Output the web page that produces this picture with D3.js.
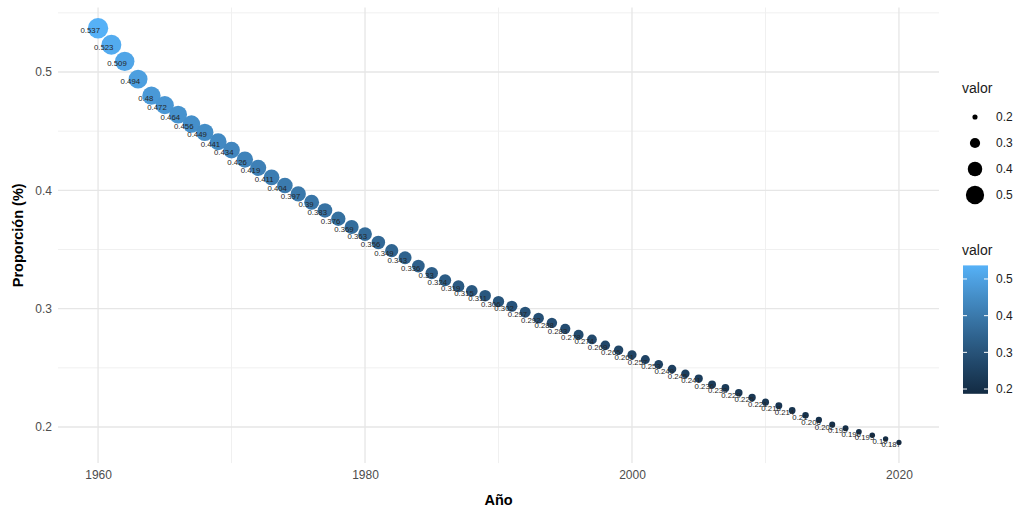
<!DOCTYPE html>
<html>
<head>
<meta charset="utf-8">
<script src="https://cdn.jsdelivr.net/npm/d3@7"></script>
<style>
  html, body { margin: 0; padding: 0; background: #fff; }
  svg { display: block; font-family: "Liberation Sans", Arial, sans-serif; }
</style>
</head>
<body>
<svg id="chart" width="1021" height="513"></svg>
<script>
// ---- data ----
const years = d3.range(1960, 2021);
const valores = [
  0.537, 0.523, 0.509, 0.494, 0.48, 0.472, 0.464, 0.456, 0.449, 0.441,
  0.434, 0.426, 0.419, 0.411, 0.404, 0.397, 0.39, 0.383, 0.376, 0.369,
  0.363, 0.356, 0.349, 0.343, 0.336, 0.33, 0.324, 0.319, 0.315, 0.311,
  0.306, 0.302, 0.297, 0.292, 0.288, 0.283, 0.278, 0.274, 0.269, 0.265,
  0.261, 0.257, 0.253, 0.249, 0.245, 0.241, 0.236, 0.233, 0.229, 0.225,
  0.221, 0.218, 0.214, 0.21, 0.206, 0.202, 0.199, 0.196, 0.193, 0.19,
  0.187
];
const xTicks = [1960, 1980, 2000, 2020];
const xMinor = [1970, 1990, 2010];
const yTicks = [0.2, 0.3, 0.4, 0.5];
const yMinor = [0.25, 0.35, 0.45, 0.55];
const legendBreaks = [0.2, 0.3, 0.4, 0.5];
const xTitle = "Año";
const yTitle = "Proporción (%)";
const legendTitle = "valor";

const data = years.map((y, i) => ({ year: y, valor: valores[i] }));

// ---- layout ----
const svg = d3.select("#chart");
const panel = { left: 58, right: 939, top: 7.5, bottom: 463.1 };

const xExt = d3.extent(years), xPad = (xExt[1] - xExt[0]) * 0.05;
const yExt = d3.extent(valores), yPad = (yExt[1] - yExt[0]) * 0.05;

const x = d3.scaleLinear().domain([xExt[0] - xPad, xExt[1] + xPad]).range([panel.left, panel.right]);
const y = d3.scaleLinear().domain([yExt[0] - yPad, yExt[1] + yPad]).range([panel.bottom, panel.top]);

const color = d3.scaleLinear().domain(yExt).range(["#132B43", "#56B1F7"]).interpolate(d3.interpolateLab);
const size = d3.scaleSqrt().domain(yExt).range([0, 1]).clamp(true);
const radius = v => 2.6 + size(v) * 7.6;

// ---- grid ----
const grid = svg.append("g");
grid.selectAll(".ymin").data(yMinor).join("line")
  .attr("x1", panel.left).attr("x2", panel.right)
  .attr("y1", d => y(d)).attr("y2", d => y(d))
  .attr("stroke", "#f0f0f0").attr("stroke-width", 1);
grid.selectAll(".xmin").data(xMinor).join("line")
  .attr("y1", panel.top).attr("y2", panel.bottom)
  .attr("x1", d => x(d)).attr("x2", d => x(d))
  .attr("stroke", "#f0f0f0").attr("stroke-width", 1);
grid.selectAll(".ymaj").data(yTicks).join("line")
  .attr("x1", panel.left).attr("x2", panel.right)
  .attr("y1", d => y(d)).attr("y2", d => y(d))
  .attr("stroke", "#e6e6e6").attr("stroke-width", 1.3);
grid.selectAll(".xmaj").data(xTicks).join("line")
  .attr("y1", panel.top).attr("y2", panel.bottom)
  .attr("x1", d => x(d)).attr("x2", d => x(d))
  .attr("stroke", "#e6e6e6").attr("stroke-width", 1.3);

// ---- axes ----
const xAxis = svg.append("g").attr("transform", `translate(0,${panel.bottom})`)
  .call(d3.axisBottom(x).tickValues(xTicks).tickFormat(d3.format("d")).tickSize(0).tickPadding(7));
const yAxis = svg.append("g").attr("transform", `translate(${panel.left},0)`)
  .call(d3.axisLeft(y).tickValues(yTicks).tickFormat(d3.format(".1f")).tickSize(0).tickPadding(6));
[xAxis, yAxis].forEach(a => {
  a.select(".domain").remove();
  a.selectAll("text").attr("fill", "#4d4d4d").style("font-size", "12px")
    .style("font-family", "'Liberation Sans', Arial, sans-serif");
});

svg.append("text").attr("x", (panel.left + panel.right) / 2).attr("y", 505)
  .attr("text-anchor", "middle").attr("font-weight", "bold").attr("font-size", 14.5)
  .attr("fill", "#000").text(xTitle);
svg.append("text").attr("transform", `translate(23,${(panel.top + panel.bottom) / 2}) rotate(-90)`)
  .attr("text-anchor", "middle").attr("font-weight", "bold").attr("font-size", 14.5)
  .attr("fill", "#000").text(yTitle);

// ---- points ----
svg.append("g").selectAll("circle").data(data).join("circle")
  .attr("cx", d => x(d.year)).attr("cy", d => y(d.valor))
  .attr("r", d => radius(d.valor))
  .attr("fill", d => color(d.valor));

// ---- labels ----
svg.append("g").selectAll("text").data(data).join("text")
  .attr("x", d => x(d.year) + 2).attr("y", d => y(d.valor) + 5)
  .attr("text-anchor", "end")
  .attr("font-size", 7.8).attr("fill", "#262626")
  .text(d => String(d.valor));

// ---- size legend ----
const lg = svg.append("g");
lg.append("text").attr("x", 962).attr("y", 93).attr("font-size", 14).attr("fill", "#1a1a1a").text(legendTitle);
const keyY = d3.scalePoint().domain(legendBreaks).range([117, 195]);
lg.selectAll("circle").data(legendBreaks).join("circle")
  .attr("cx", 975).attr("cy", d => keyY(d)).attr("r", d => radius(d) - 0.4).attr("fill", "#000");
lg.selectAll(".lbl").data(legendBreaks).join("text")
  .attr("x", 996).attr("y", d => keyY(d) + 4.3).attr("font-size", 12).attr("fill", "#1a1a1a")
  .text(d3.format(".1f"));

// ---- colour bar ----
const cb = { x: 963, w: 25, top: 265.4, bottom: 393.8 };
const cbY = d3.scaleLinear().domain(yExt).range([cb.bottom, cb.top]);
const defs = svg.append("defs");
const grad = defs.append("linearGradient").attr("id", "cbgrad")
  .attr("x1", 0).attr("y1", 1).attr("x2", 0).attr("y2", 0);
d3.range(0, 1.0001, 0.05).forEach(t => {
  grad.append("stop").attr("offset", t)
    .attr("stop-color", color(yExt[0] + t * (yExt[1] - yExt[0])));
});
lg.append("text").attr("x", 962).attr("y", 255).attr("font-size", 14).attr("fill", "#1a1a1a").text(legendTitle);
lg.append("rect").attr("x", cb.x).attr("y", cb.top).attr("width", cb.w)
  .attr("height", cb.bottom - cb.top).attr("fill", "url(#cbgrad)");
legendBreaks.forEach(b => {
  lg.append("line").attr("x1", cb.x).attr("x2", cb.x + 4).attr("y1", cbY(b)).attr("y2", cbY(b))
    .attr("stroke", "#fff").attr("stroke-width", 1);
  lg.append("line").attr("x1", cb.x + cb.w - 4).attr("x2", cb.x + cb.w).attr("y1", cbY(b)).attr("y2", cbY(b))
    .attr("stroke", "#fff").attr("stroke-width", 1);
  lg.append("text").attr("x", 996).attr("y", cbY(b) + 4.3).attr("font-size", 12).attr("fill", "#1a1a1a")
    .text(d3.format(".1f")(b));
});
</script>
</body>
</html>
